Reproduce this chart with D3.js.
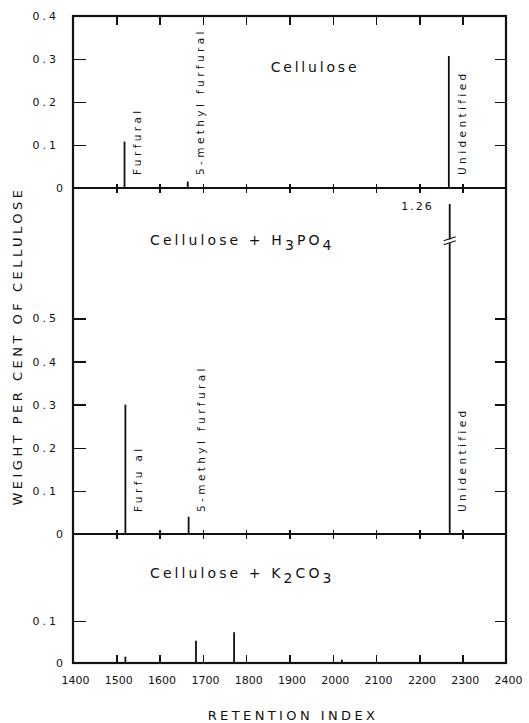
<!DOCTYPE html>
<html>
<head>
<meta charset="utf-8">
<script src="https://cdn.jsdelivr.net/npm/d3@7"></script>
<style>
  body { margin: 0; background: #fff; }
  svg text { font-family: "DejaVu Sans", sans-serif; fill: #111; }
  .tk line { shape-rendering: crispEdges; }
</style>
</head>
<body>
<div id="chart"></div>
<script>
// Pyrolysis products vs retention index, three treatments
const X_TICKS = [1400, 1500, 1600, 1700, 1800, 1900, 2000, 2100, 2200, 2300, 2400];

const celluloseRI  = [1519, 1665, 2268];
const celluloseWt  = [0.108, 0.015, 0.307];
const celluloseLbl = ["Furfural", "5-methyl furfural", "Unidentified"];

const h3po4RI  = [1521, 1667, 2270];
const h3po4Wt  = [0.30, 0.04, 1.26];
const h3po4Lbl = ["Furfu al", "5-methyl furfural", "Unidentified"];

const k2co3RI = [1521, 1684, 1772, 1901, 2021];
const k2co3Wt = [0.015, 0.053, 0.073, 0.014, 0.008];

const topTicks = [0, 0.1, 0.2, 0.3, 0.4];
const midTicks = [0, 0.1, 0.2, 0.3, 0.4, 0.5];
const botTicks = [0, 0.1];

const W = 529, H = 723;
const left = 73, right = 506;
const yTop = 16, yZ1 = 188, yZ2 = 534, yZ3 = 663;
const BREAK_AT = 0.68, DRAW_CAP = 0.765;   // broken bar in middle panel

const svg = d3.select("#chart").append("svg").attr("width", W).attr("height", H);

const x = d3.scaleLinear().domain([1400, 2400]).range([left, right]);
const panels = [
  { name: "top", y: d3.scaleLinear().domain([0, 0.4]).range([yZ1, yTop]), ticks: topTicks,
    ri: celluloseRI, wt: celluloseWt, lbl: celluloseLbl },
  { name: "mid", y: d3.scaleLinear().domain([0, 0.8]).range([yZ2, yZ1 + 1]), ticks: midTicks,
    ri: h3po4RI, wt: h3po4Wt, lbl: h3po4Lbl },
  { name: "bot", y: d3.scaleLinear().domain([0, 0.307]).range([yZ3, yZ2]), ticks: botTicks,
    ri: k2co3RI, wt: k2co3Wt, lbl: [] }
];

const fmt = d => d === 0 ? "0" : d3.format(".1f")(d);

panels.forEach(p => {
  // left y axis, ticks pointing inward
  const gl = svg.append("g").attr("class", "tk").attr("transform", `translate(${left},0)`)
    .call(d3.axisLeft(p.y).tickValues(p.ticks).tickSize(-13).tickPadding(15).tickFormat(fmt));
  gl.select(".domain").remove();
  gl.selectAll("line").attr("stroke", "#111").attr("stroke-width", 1.5);
  gl.selectAll("text").style("font-size", "11px").style("letter-spacing", "3px")
    .attr("x", d => d === 0 ? -7 : -14);
  // right side ticks
  const gr = svg.append("g").attr("class", "tk").attr("transform", `translate(${right},0)`)
    .call(d3.axisRight(p.y).tickValues(p.ticks.filter(d => d > 0)).tickSize(-11).tickFormat(""));
  gr.select(".domain").remove();
  gr.selectAll("line").attr("stroke", "#111").attr("stroke-width", 1.5);

  // peaks
  const cap = v => Math.min(v, p.name === "mid" ? DRAW_CAP : 10);
  svg.append("g").selectAll("line").data(p.ri.map((r, i) => ({ r, v: p.wt[i] })))
    .join("line")
    .attr("x1", d => x(d.r)).attr("x2", d => x(d.r))
    .attr("y1", p.y(0)).attr("y2", d => p.y(cap(d.v)))
    .attr("stroke", "#111").attr("stroke-width", 1.8);

  // peak labels, rotated
  svg.append("g").selectAll("text").data(p.lbl.map((t, i) => ({ t, r: p.ri[i] })))
    .join("text")
    .attr("transform", d => `translate(${x(d.r) + 13},${p.y(0) - (p.name === "mid" ? 22 : 13)}) rotate(-90)`)
    .attr("dy", "0.35em")
    .style("font-size", "10.5px").style("letter-spacing", "3.4px")
    .text(d => d.t);
});

// x ticks on each horizontal rule
const xt = X_TICKS.slice(1, -1);
function xRule(yPos, up, down) {
  const g = svg.append("g").attr("class", "tk").attr("transform", `translate(0,${yPos})`)
    .call(d3.axisBottom(x).tickValues(xt).tickSize(down).tickFormat(""));
  g.select(".domain").remove();
  g.selectAll("line").attr("y1", -up).attr("stroke", "#111").attr("stroke-width", 1.5);
}
xRule(yTop, 0, 9);
xRule(yZ1, 4, 5);
xRule(yZ2, 4, 5);

const gb = svg.append("g").attr("class", "tk").attr("transform", `translate(0,${yZ3})`)
  .call(d3.axisBottom(x).tickValues(X_TICKS).tickSize(-8).tickPadding(13).tickFormat(d3.format("d")));
gb.select(".domain").remove();
gb.selectAll("line").attr("stroke", "#111").attr("stroke-width", 1.5)
  .attr("opacity", d => (d === 1400 || d === 2400) ? 0 : 1);
gb.selectAll("text").style("font-size", "11px").attr("dx", "2");

// frame and panel dividers
svg.append("rect").attr("x", left).attr("y", yTop).attr("width", right - left).attr("height", yZ3 - yTop)
  .attr("fill", "none").attr("stroke", "#111").attr("stroke-width", 2.2);
[yZ1, yZ2].forEach(yy => svg.append("line").attr("x1", left).attr("x2", right)
  .attr("y1", yy).attr("y2", yy).attr("stroke", "#111").attr("stroke-width", 2.2));

// axis break on the tall H3PO4 peak
const mid = panels[1];
const bx = x(h3po4RI[2]), by = mid.y(BREAK_AT);
svg.append("line").attr("x1", bx - 1).attr("x2", bx + 1).attr("y1", by - 1).attr("y2", by + 2)
  .attr("stroke", "#fff").attr("stroke-width", 3);
[-2, 2].forEach(o => svg.append("line")
  .attr("x1", bx - 6).attr("y1", by + o + 2).attr("x2", bx + 6).attr("y2", by + o - 2)
  .attr("stroke", "#111").attr("stroke-width", 1.3));
svg.append("text").attr("x", bx - 16).attr("y", mid.y(DRAW_CAP) + 6).attr("text-anchor", "end")
  .style("font-size", "11px").style("letter-spacing", "2px").text(d3.format(".2f")(h3po4Wt[2]));

// panel titles
svg.append("text").attr("x", 315).attr("y", 72).attr("text-anchor", "middle")
  .style("font-size", "14px").style("letter-spacing", "2.8px").text("Cellulose");

function chemTitle(yPos, parts) {
  const t = svg.append("text").attr("x", 150).attr("y", yPos)
    .style("font-size", "14px").style("letter-spacing", "3.1px");
  parts.forEach(([s, sub]) => t.append("tspan")
    .attr("baseline-shift", sub ? "-35%" : null).text(s));
}
chemTitle(245, [["Cellulose + H", 0], ["3", 1], ["PO", 0], ["4", 1]]);
chemTitle(578, [["Cellulose + K", 0], ["2", 1], ["CO", 0], ["3", 1]]);

// axis titles
svg.append("text").attr("transform", "translate(22,346) rotate(-90)").attr("text-anchor", "middle")
  .style("font-size", "13px").style("letter-spacing", "3.5px").text("WEIGHT PER CENT OF CELLULOSE");
svg.append("text").attr("x", 293).attr("y", 720).attr("text-anchor", "middle")
  .style("font-size", "13px").style("letter-spacing", "3.4px").text("RETENTION INDEX");
</script>
</body>
</html>
